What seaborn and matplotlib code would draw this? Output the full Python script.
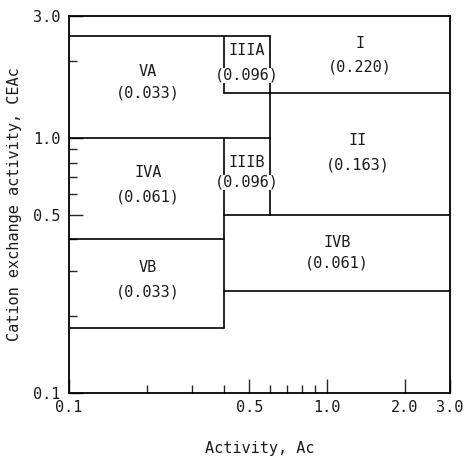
import matplotlib
matplotlib.use("Agg")
import matplotlib.pyplot as plt
import seaborn as sns
import pandas as pd

# --- data ---
# horizontal boundaries: (y, x_start, x_end)
h_y = [2.5, 1.5, 1.0, 0.5, 0.4, 0.25, 0.18]
h_x0 = [0.1, 0.4, 0.1, 0.4, 0.1, 0.4, 0.1]
h_x1 = [0.6, 3.0, 0.6, 3.0, 0.4, 3.0, 0.4]
# vertical boundaries: (x, y_start, y_end)
v_x = [0.4, 0.4, 0.6]
v_y0 = [2.5, 1.0, 2.5]
v_y1 = [1.5, 0.18, 0.5]

region_names = ["VA", "IIIA", "I", "IVA", "IIIB", "II", "IVB", "VB"]
region_values = ["0.033", "0.096", "0.220", "0.061", "0.096", "0.163", "0.061", "0.033"]

# label anchor positions (data coords)
label_x = [0.2025, 0.49, 1.34, 0.2025, 0.49, 1.32, 1.094, 0.2025]
name_y = [1.825, 2.207, 2.35, 0.733, 0.803, 0.979, 0.390, 0.311]
value_y = [1.496, 1.761, 1.892, 0.585, 0.670, 0.781, 0.323, 0.248]

x_major = [0.1, 0.5, 1.0, 2.0, 3.0]
x_minor = [0.2, 0.3, 0.4, 0.6, 0.7, 0.8, 0.9]
y_major = [0.1, 0.5, 1.0, 3.0]
y_minor = [0.2, 0.3, 0.4, 0.6, 0.7, 0.8, 0.9, 2.0]

# build segment table
rows = []
seg = 0
for y, a, b in zip(h_y, h_x0, h_x1):
    rows += [dict(seg=seg, x=a, y=y), dict(seg=seg, x=b, y=y)]
    seg += 1
for x, a, b in zip(v_x, v_y0, v_y1):
    rows += [dict(seg=seg, x=x, y=a), dict(seg=seg, x=x, y=b)]
    seg += 1
df = pd.DataFrame(rows)

sns.set_style("ticks")
plt.rcParams['font.family'] = ['DejaVu Sans Mono', 'DejaVu Sans']
FS = 11
TXT = "#1a1a1a"

fig = plt.figure(figsize=(4.66, 4.57), dpi=100)
ax = fig.add_axes([69/466, 1-393/457, (450-69)/466, (393-16)/457])
ax.set_xscale("log")
ax.set_yscale("log")
sns.lineplot(data=df, x="x", y="y", units="seg", estimator=None, sort=False,
             color="black", lw=1.2, ax=ax, legend=False)
ax.set_xlim(0.1, 3.0)
ax.set_ylim(0.1, 3.0)

for n, v, x, yn, yv in zip(region_names, region_values, label_x, name_y, value_y):
    ax.text(x, yn, n, ha="center", va="center", fontsize=FS, color=TXT, zorder=5)
    ax.text(x, yv, f"({v})", ha="center", va="center", fontsize=FS, color=TXT,
            bbox=dict(facecolor="white", edgecolor="none", pad=0.0), zorder=5)

ax.xaxis.set_major_locator(matplotlib.ticker.FixedLocator(x_major))
ax.xaxis.set_minor_locator(matplotlib.ticker.FixedLocator(x_minor))
ax.yaxis.set_major_locator(matplotlib.ticker.FixedLocator(y_major))
ax.yaxis.set_minor_locator(matplotlib.ticker.FixedLocator(y_minor))
ax.set_xticklabels([f"{v:.1f}" for v in x_major])
ax.set_yticklabels([f"{v:.1f}" for v in y_major])
ax.xaxis.set_minor_formatter(matplotlib.ticker.NullFormatter())
ax.yaxis.set_minor_formatter(matplotlib.ticker.NullFormatter())
ax.tick_params(axis="both", which="major", direction="in", length=10, width=1.0,
               labelsize=FS, pad=5, labelcolor=TXT)
ax.tick_params(axis="both", which="minor", direction="in", length=6, width=1.0)
ax.tick_params(axis="y", which="major", pad=6)

for s in ax.spines.values():
    s.set_visible(True)
    s.set_linewidth(1.3)
    s.set_color("black")

ax.set_xlabel("Activity, Ac", fontsize=FS, labelpad=19, color=TXT)
ax.set_ylabel("Cation exchange activity, CEAc", fontsize=FS, labelpad=8, color=TXT)

fig.savefig("out.png", dpi=100, facecolor="white")
